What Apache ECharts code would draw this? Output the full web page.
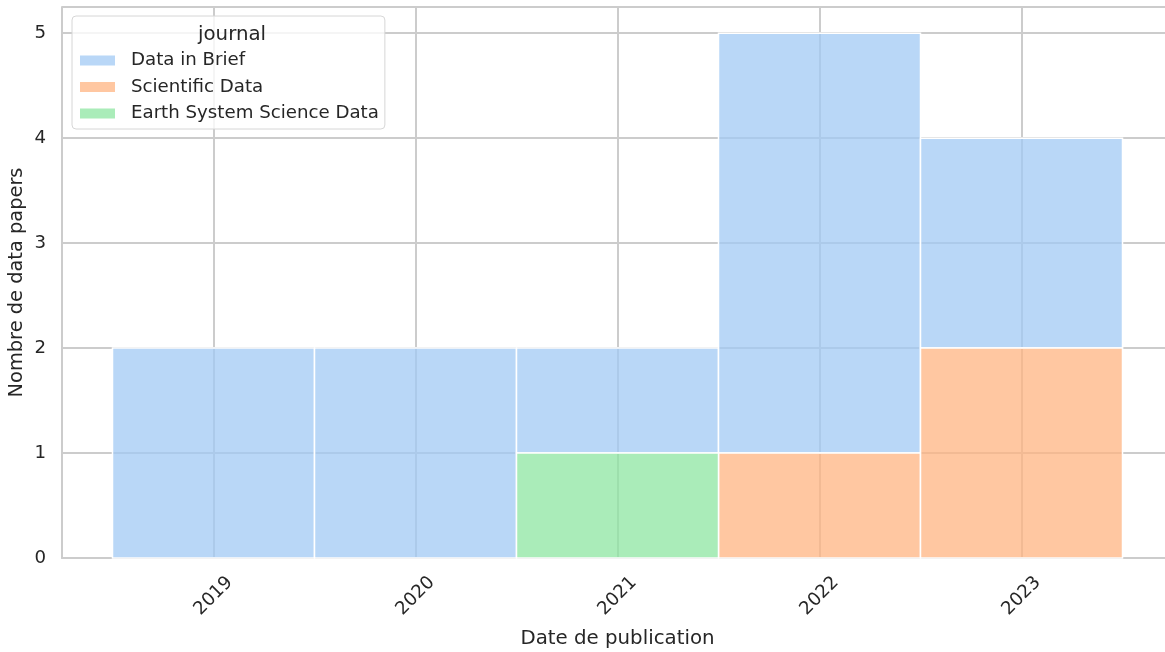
<!DOCTYPE html>
<html>
<head>
<meta charset="utf-8">
<script src="https://cdn.jsdelivr.net/npm/echarts@6/dist/echarts.min.js"></script>
<style>
html, body { margin: 0; padding: 0; background: #fff; }
#main { width: 1165px; height: 652px; }
</style>
</head>
<body>
<div id="main"></div>
<script>
// années de publication
var years = [2019, 2020, 2021, 2022, 2023];
// nombre de data papers par journal
var dataInBrief = [2, 2, 1, 4, 2];
var scientificData = [0, 0, 0, 1, 2];
var earthSystemData = [0, 0, 1, 0, 0];
var yTicks = [0, 1, 2, 3, 4, 5];

var journals = ['Data in Brief', 'Scientific Data', 'Earth System Science Data'];
var colors = ['rgba(161,201,244,0.75)', 'rgba(255,180,130,0.75)', 'rgba(141,229,161,0.75)'];
var textColor = '#262626';
var fontName = 'DejaVu Sans';

// empilement : ESSD en bas, puis Scientific Data, puis Data in Brief
var stackOrder = [earthSystemData, scientificData, dataInBrief];
var stackIdx = [2, 1, 0];
var base = [0, 0, 0, 0, 0];
var segments = [[], [], []];
for (var s = 0; s < stackOrder.length; s++) {
	var vals = stackOrder[s];
	for (var i = 0; i < years.length; i++) {
		if (vals[i] > 0) {
			segments[stackIdx[s]].push([years[i], base[i], base[i] + vals[i]]);
		}
		base[i] += vals[i];
	}
}

function renderBar(params, api) {
	var x = api.value(0);
	var p0 = api.coord([x - 0.5, api.value(1)]);
	var p1 = api.coord([x + 0.5, api.value(2)]);
	return {
		type: 'rect',
		shape: { x: p0[0], y: p1[1], width: p1[0] - p0[0], height: p0[1] - p1[1] },
		style: { fill: api.visual('color'), stroke: '#ffffff', lineWidth: 1.5 }
	};
}

var series = [];
for (var k = 0; k < journals.length; k++) {
	series.push({
		name: journals[k],
		type: 'custom',
		renderItem: renderBar,
		itemStyle: { color: colors[k] },
		encode: { x: 0, y: [1, 2] },
		data: segments[k]
	});
}

var chart = echarts.init(document.getElementById('main'));
var option = {
	animation: false,
	textStyle: { fontFamily: fontName },
	title: {
		text: 'journal',
		left: 193,
		top: 20,
		textStyle: { fontFamily: fontName, fontSize: 19.8, fontWeight: 'normal', color: textColor }
	},
	legend: {
		orient: 'vertical',
		left: 72,
		top: 16,
		padding: [34, 6, 5, 8],
		backgroundColor: 'rgba(255,255,255,0.8)',
		borderColor: '#d6d6d6',
		borderWidth: 1,
		borderRadius: 4,
		itemWidth: 35,
		itemHeight: 10,
		itemGap: 5.5,
		icon: 'rect',
		data: journals,
		textStyle: { fontFamily: fontName, fontSize: 18.2, lineHeight: 21, color: textColor, padding: [0, 0, 0, 11] }
	},
	grid: {
		left: 62,
		top: 7,
		width: 1111,
		height: 551,
		outerBoundsMode: 'none',
		containLabel: false
	},
	xAxis: {
		type: 'value',
		min: 2018.25,
		max: 2023.75,
		name: 'Date de publication',
		nameLocation: 'middle',
		nameGap: 71,
		nameTextStyle: { fontFamily: fontName, fontSize: 19.8, color: textColor },
		axisLine: { show: true, lineStyle: { color: '#cccccc', width: 2 } },
		axisTick: { show: false, customValues: years },
		axisLabel: {
			customValues: years,
			rotate: 45,
			align: 'center',
			verticalAlign: 'middle',
			margin: 38,
			fontSize: 18.2,
			color: textColor,
			formatter: function (v) { return String(v); }
		},
		splitLine: { show: true, lineStyle: { color: '#cccccc', width: 2 } }
	},
	yAxis: {
		type: 'value',
		min: 0,
		max: 5.25,
		name: 'Nombre de data papers',
		nameLocation: 'middle',
		nameGap: 36,
		nameMoveOverlap: false,
		nameTextStyle: { fontFamily: fontName, fontSize: 19.4, color: textColor },
		axisLine: { show: true, lineStyle: { color: '#cccccc', width: 2 } },
		axisTick: { show: false, customValues: yTicks.concat([5.25]) },
		axisLabel: {
			customValues: yTicks,
			margin: 16,
			fontSize: 18.2,
			color: textColor
		},
		splitLine: { show: true, lineStyle: { color: '#cccccc', width: 2 } }
	},
	series: series
};
chart.setOption(option);
</script>
</body>
</html>
